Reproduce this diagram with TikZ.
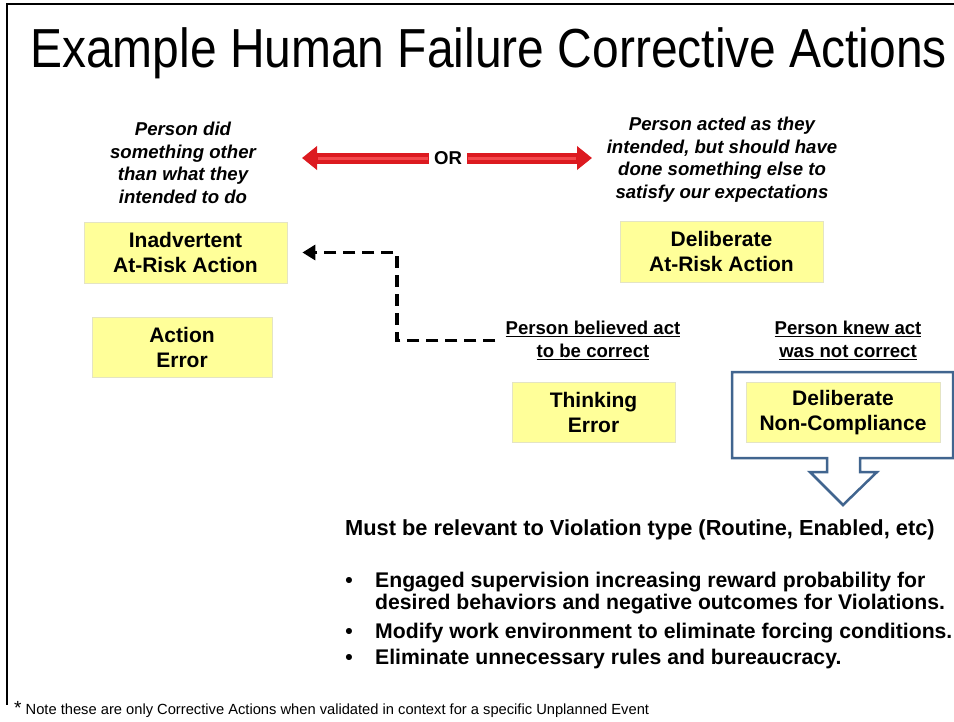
\documentclass[tikz,border=0pt]{standalone}
\usepackage{fontspec}
\setmainfont{Liberation Sans}
\newfontfamily\narrowfont{Liberation Sans}[FakeStretch=0.872]
\usetikzlibrary{positioning}
\usetikzlibrary{arrows.meta}

\definecolor{boxyellow}{HTML}{FFFF99}
\definecolor{boxedge}{HTML}{E4E4C4}
\definecolor{orred}{HTML}{DC1A20}
\definecolor{orlight}{HTML}{F4484C}
\definecolor{callblue}{HTML}{41658F}

\tikzset{
  failbox/.style={fill=boxyellow,draw=boxedge,line width=0.8pt,align=center,
    font=\fontsize{21}{25}\selectfont\bfseries,inner sep=0pt},
  intentlabel/.style={align=center,font=\fontsize{18.6}{22.6}\selectfont\bfseries\itshape,inner sep=0pt},
  actlabel/.style={align=center,font=\fontsize{18.6}{23}\selectfont\bfseries,inner sep=0pt},
  orarrow/.style={line width=11pt,orred,-{Triangle[length=15pt,width=23pt]}},
  dashline/.style={line width=3.5pt,dash pattern=on 12pt off 7pt,-{Triangle[length=13pt,width=15pt]}},
  listtext/.style={anchor=base west,inner sep=0pt,font=\fontsize{21.2}{22}\selectfont\bfseries},
  bulletmark/.style={anchor=base,inner sep=0pt,font=\fontsize{21.2}{22}\selectfont\bfseries},
}

\begin{document}
\begin{tikzpicture}[x=1pt,y=-1pt]
\useasboundingbox (0,0) rectangle (954,721);
% slide frame
\draw[line width=2pt] (954,4) -- (7,4) -- (7,705);
\node[anchor=base west,inner sep=0pt,font=\narrowfont\fontsize{55}{60}\selectfont] (title) at (30,67)
  {Example Human Failure Corrective Actions};

% the two kinds of intent
\node[intentlabel] (didother) at (183,163) {Person did\\something other\\than what they\\intended to do};
\node[intentlabel] (actedas) at (722,159.5) {Person acted as they\\intended, but should have\\done something else to\\satisfy our expectations};
\node[font=\fontsize{18.6}{22}\selectfont\bfseries,inner sep=0pt] (or) at (448,158) {OR};
\coordinate (lefttip) at (302,158);
\coordinate (righttip) at (592,158);
\draw[orarrow,shorten <=5pt] (or.west) -- (lefttip);
\draw[orarrow,shorten <=5pt] (or.east) -- (righttip);
\draw[orlight,line width=3pt,shorten <=6pt,shorten >=16pt] (or.west) -- (lefttip);
\draw[orlight,line width=3pt,shorten <=6pt,shorten >=16pt] (or.east) -- (righttip);

% failure types
\node[failbox,minimum width=203pt,minimum height=61pt] (inadvertent) at (185.5,252.5) {Inadvertent\\At-Risk Action};
\node[failbox,minimum width=180pt,minimum height=60pt] (actionerr) at (182,347) {Action\\Error};
\node[failbox,minimum width=203pt,minimum height=61pt] (deliberate) at (721.5,251.5) {Deliberate\\At-Risk Action};

\node[actlabel] (believed) at (593,340.5) {\underline{Person believed act}\\\underline{to be correct}};
\node[actlabel] (knew) at (848,340.5) {\underline{Person knew act}\\\underline{was not correct}};

\node[failbox,minimum width=163pt,minimum height=60pt] (thinking) at (593.5,412) {Thinking\\Error};

% callout round the non-compliance box
\draw[callblue,line width=2.5pt,fill=white,line join=miter]
  (732,372) -- (953,372) -- (953,458) -- (860,458) -- (860,472) -- (877,472)
  -- (843,505) -- (810,472) -- (827,472) -- (827,458) -- (732,458) -- cycle;
\node[failbox,minimum width=194pt,minimum height=60pt] (noncomp) at (843,412.5) {Deliberate\\Non-Compliance};

\coordinate (bend) at (397,252.5);
\draw[dashline,shorten <=10pt,shorten >=15pt] (believed.west) -| (bend) -- (inadvertent.east);

% corrective actions
\node[anchor=base west,inner sep=0pt,font=\fontsize{21.8}{22}\selectfont\bfseries] (relevant) at (345,535)
  {Must be relevant to Violation type (Routine, Enabled, etc)};
\node[bulletmark] (b1) at (349,587) {\textbullet};
\node[listtext] (item1a) at (375,587) {Engaged supervision increasing reward probability for};
\node[listtext] (item1b) at (375,609) {desired behaviors and negative outcomes for Violations.};
\node[bulletmark] (b2) at (349,638) {\textbullet};
\node[listtext] (item2) at (375,638) {Modify work environment to eliminate forcing conditions.};
\node[bulletmark] (b3) at (349,664) {\textbullet};
\node[listtext] (item3) at (375,664) {Eliminate unnecessary rules and bureaucracy.};

\node[anchor=base west,inner sep=0pt,font=\fontsize{14.7}{16}\selectfont] (note) at (14,714)
  {{\fontsize{19}{19}\selectfont*} Note these are only Corrective Actions when validated in context for a specific Unplanned Event};
\end{tikzpicture}
\end{document}
